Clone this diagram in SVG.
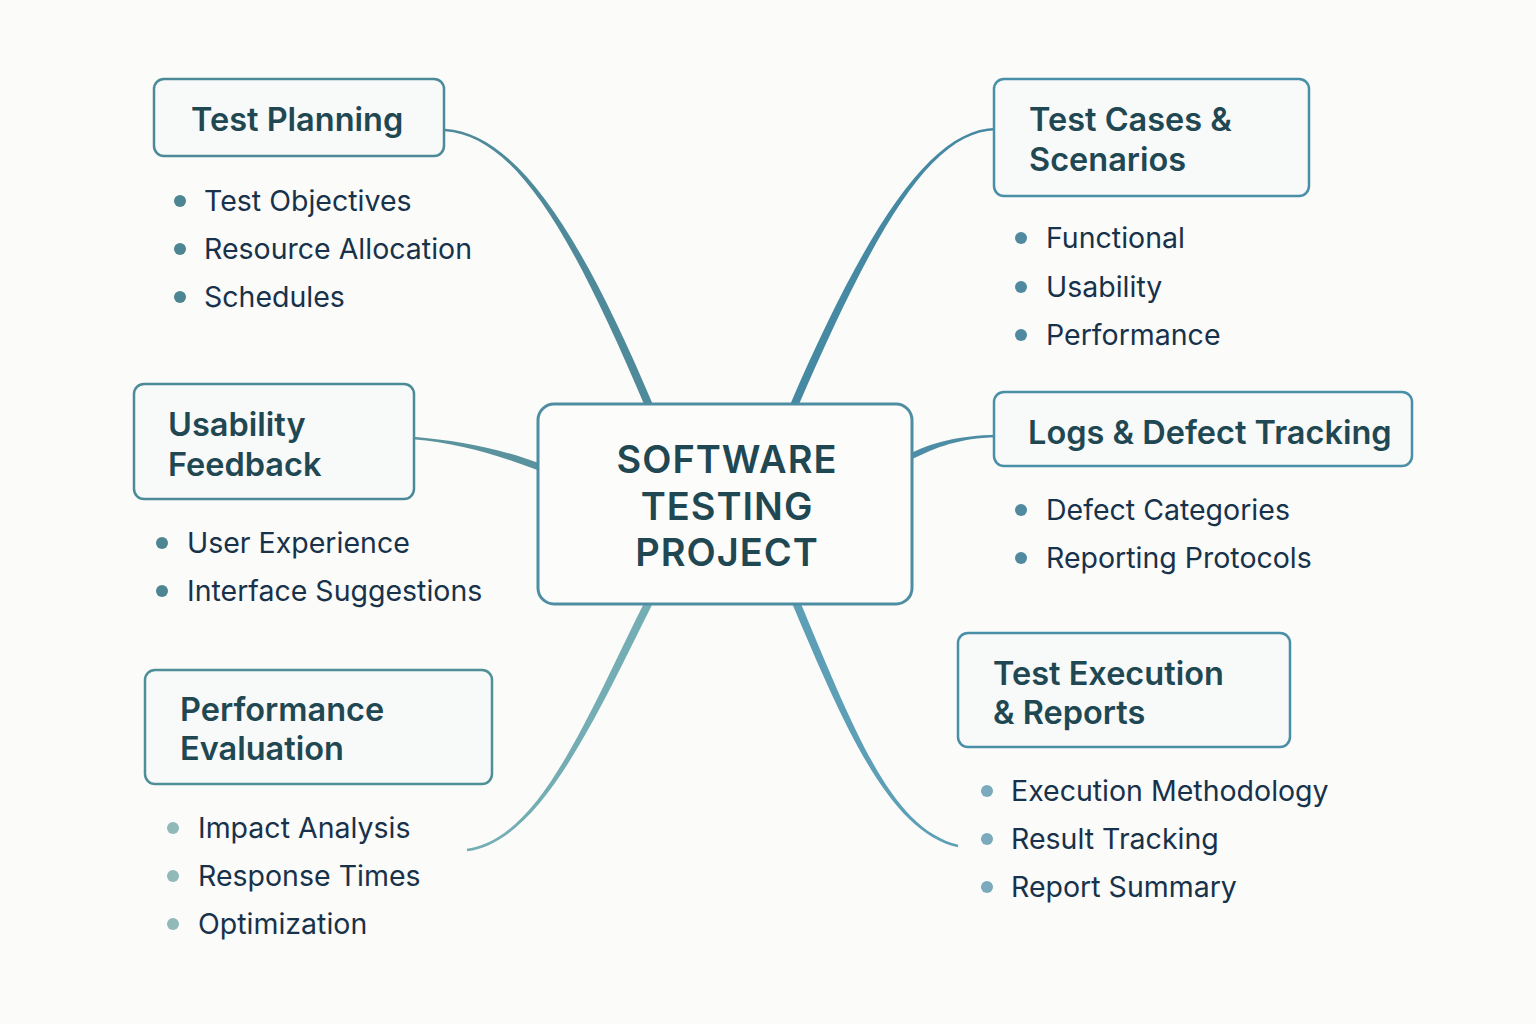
<svg xmlns="http://www.w3.org/2000/svg" width="1536" height="1024" viewBox="0 0 1536 1024">
  <defs>
    <style>
      .bg { fill: #fbfbf9; }
      .box { fill: #f8f9f9; stroke-width: 2.5; }
      .center { fill: #fcfcfb; stroke: #4f8ea2; stroke-width: 3; }
      .title { font-family: Inter, "Noto Sans", "Liberation Sans", sans-serif; font-weight: 600; font-size: 32.5px; fill: #1f4853; }
      .hub { font-family: Inter, "Noto Sans", "Liberation Sans", sans-serif; font-weight: 600; font-size: 38px; fill: #1f4853; text-anchor: middle; letter-spacing: 1px; }
      .item { font-family: Inter, "Noto Sans", "Liberation Sans", sans-serif; font-weight: 400; font-size: 28.5px; fill: #17324a; }
      .teal { stroke: #4b8b99; }
      .blue { stroke: #4a8fa8; }
      .pale { stroke: #4f8f98; }
    </style>
  </defs>

  <rect class="bg" x="0" y="0" width="1536" height="1024"/>

  <!-- tapered branches: thin at the topic box, thick at the hub -->
  <g id="connectors">
    <path fill="#4f8a9b" d="M444.9,131.2 C514.9,136.2 571.3,231.6 646.3,409.6 L653.7,406.4 C578.7,228.4 515.1,133.8 445.1,128.8 Z"/>
    <path fill="#4689a3" d="M996,127.7 C930,128.7 866.3,228.4 789.3,406.4 L796.7,409.6 C873.7,231.6 930,131.3 996,130.3 Z"/>
    <path fill="#5a939e" d="M412.9,439.3 C459.9,443.3 498.75,455.27 540.75,471.27 L543.25,464.73 C501.25,448.73 460.1,440.7 413.1,436.7 Z"/>
    <path fill="#4d8ea6" d="M996,434.7 C960,435.7 933.6,441.3 906.6,455.3 L909.4,460.7 C936.4,446.7 960,438.3 996,437.3 Z"/>
    <path fill="#74aeb4" d="M467.2,851.3 C540.2,841.3 593.6,721.8 653.6,601.8 L646.4,598.2 C586.4,718.2 539.8,838.7 466.8,848.7 Z"/>
    <path fill="#5c9fb6" d="M958.3,844.7 C890.3,828.7 853.7,728.4 798.7,598.4 L791.3,601.6 C846.3,731.6 889.7,831.3 957.7,847.3 Z"/>
  </g>

  <g id="hub">
    <rect class="center" x="538" y="404" width="374" height="200" rx="16"/>
    <text class="hub" x="727" y="473">SOFTWARE</text>
    <text class="hub" x="727" y="520">TESTING</text>
    <text class="hub" x="727" y="566">PROJECT</text>
  </g>

  <g id="test-planning">
    <rect class="box teal" x="154" y="79" width="290" height="77" rx="10"/>
    <text class="title" x="191" y="131">Test Planning</text>
    <g fill="#4d8593">
      <circle cx="180" cy="201" r="6"/>
      <circle cx="180" cy="249" r="6"/>
      <circle cx="180" cy="297" r="6"/>
    </g>
    <text class="item" x="204" y="211">Test Objectives</text>
    <text class="item" x="204" y="259">Resource Allocation</text>
    <text class="item" x="204" y="307">Schedules</text>
  </g>

  <g id="test-cases">
    <rect class="box blue" x="994" y="79" width="315" height="117" rx="10"/>
    <text class="title" x="1029" y="131">Test Cases &amp;</text>
    <text class="title" x="1029" y="171">Scenarios</text>
    <g fill="#4f8aa0">
      <circle cx="1021" cy="238" r="6"/>
      <circle cx="1021" cy="287" r="6"/>
      <circle cx="1021" cy="335" r="6"/>
    </g>
    <text class="item" x="1046" y="248">Functional</text>
    <text class="item" x="1046" y="297">Usability</text>
    <text class="item" x="1046" y="345">Performance</text>
  </g>

  <g id="usability-feedback">
    <rect class="box teal" x="134" y="384" width="280" height="115" rx="10"/>
    <text class="title" x="168" y="436">Usability</text>
    <text class="title" x="168" y="476">Feedback</text>
    <g fill="#4d8593">
      <circle cx="162" cy="543" r="6"/>
      <circle cx="162" cy="591" r="6"/>
    </g>
    <text class="item" x="187" y="553">User Experience</text>
    <text class="item" x="187" y="601">Interface Suggestions</text>
  </g>

  <g id="logs-defects">
    <rect class="box blue" x="994" y="392" width="418" height="74" rx="10"/>
    <text class="title" x="1028" y="444">Logs &amp; Defect Tracking</text>
    <g fill="#4f8aa0">
      <circle cx="1021" cy="510" r="6"/>
      <circle cx="1021" cy="558" r="6"/>
    </g>
    <text class="item" x="1046" y="520">Defect Categories</text>
    <text class="item" x="1046" y="568">Reporting Protocols</text>
  </g>

  <g id="performance-evaluation">
    <rect class="box pale" x="145" y="670" width="347" height="114" rx="10"/>
    <text class="title" x="180" y="721">Performance</text>
    <text class="title" x="180" y="760">Evaluation</text>
    <g fill="#8fbab8">
      <circle cx="173" cy="828" r="6"/>
      <circle cx="173" cy="876" r="6"/>
      <circle cx="173" cy="924" r="6"/>
    </g>
    <text class="item" x="198" y="838">Impact Analysis</text>
    <text class="item" x="198" y="886">Response Times</text>
    <text class="item" x="198" y="934">Optimization</text>
  </g>

  <g id="test-execution">
    <rect class="box blue" x="958" y="633" width="332" height="114" rx="10"/>
    <text class="title" x="993" y="685">Test Execution</text>
    <text class="title" x="993" y="724">&amp; Reports</text>
    <g fill="#7aaabb">
      <circle cx="987" cy="791" r="6"/>
      <circle cx="987" cy="839" r="6"/>
      <circle cx="987" cy="887" r="6"/>
    </g>
    <text class="item" x="1011" y="801">Execution Methodology</text>
    <text class="item" x="1011" y="849">Result Tracking</text>
    <text class="item" x="1011" y="897">Report Summary</text>
  </g>
</svg>
